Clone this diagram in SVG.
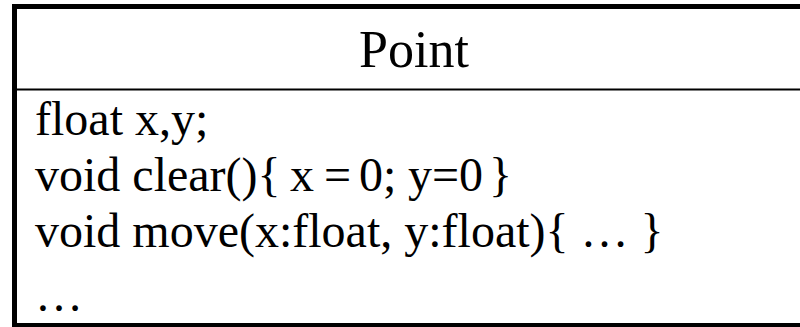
<svg xmlns="http://www.w3.org/2000/svg" width="800" height="327" viewBox="0 0 800 327">
<style>
.t{font-family:"Liberation Serif","Times New Roman",serif;fill:#000;white-space:pre}
.body{font-size:48px}
</style>
<rect width="800" height="327" fill="#fff"/>
<g id="point-class">
<rect x="14.5" y="6.5" width="800" height="319" fill="#fff" stroke="#000" stroke-width="5"/>
<line x1="17" y1="89.5" x2="800" y2="89.5" stroke="#000" stroke-width="2"/>
<text class="t" x="414" y="66.7" font-size="52" text-anchor="middle">Point</text>
<text class="t body" x="35" y="135">float x,y;</text>
<text class="t body" x="35" y="191">void clear(){<tspan x="290">x</tspan><tspan x="324">=</tspan><tspan x="359">0;</tspan><tspan x="408">y=0</tspan><tspan x="489">}</tspan></text>
<text class="t body" x="35" y="247">void move(x:float, y:float){ … }</text>
<text class="t body" x="35" y="311">…</text>
</g>
</svg>
